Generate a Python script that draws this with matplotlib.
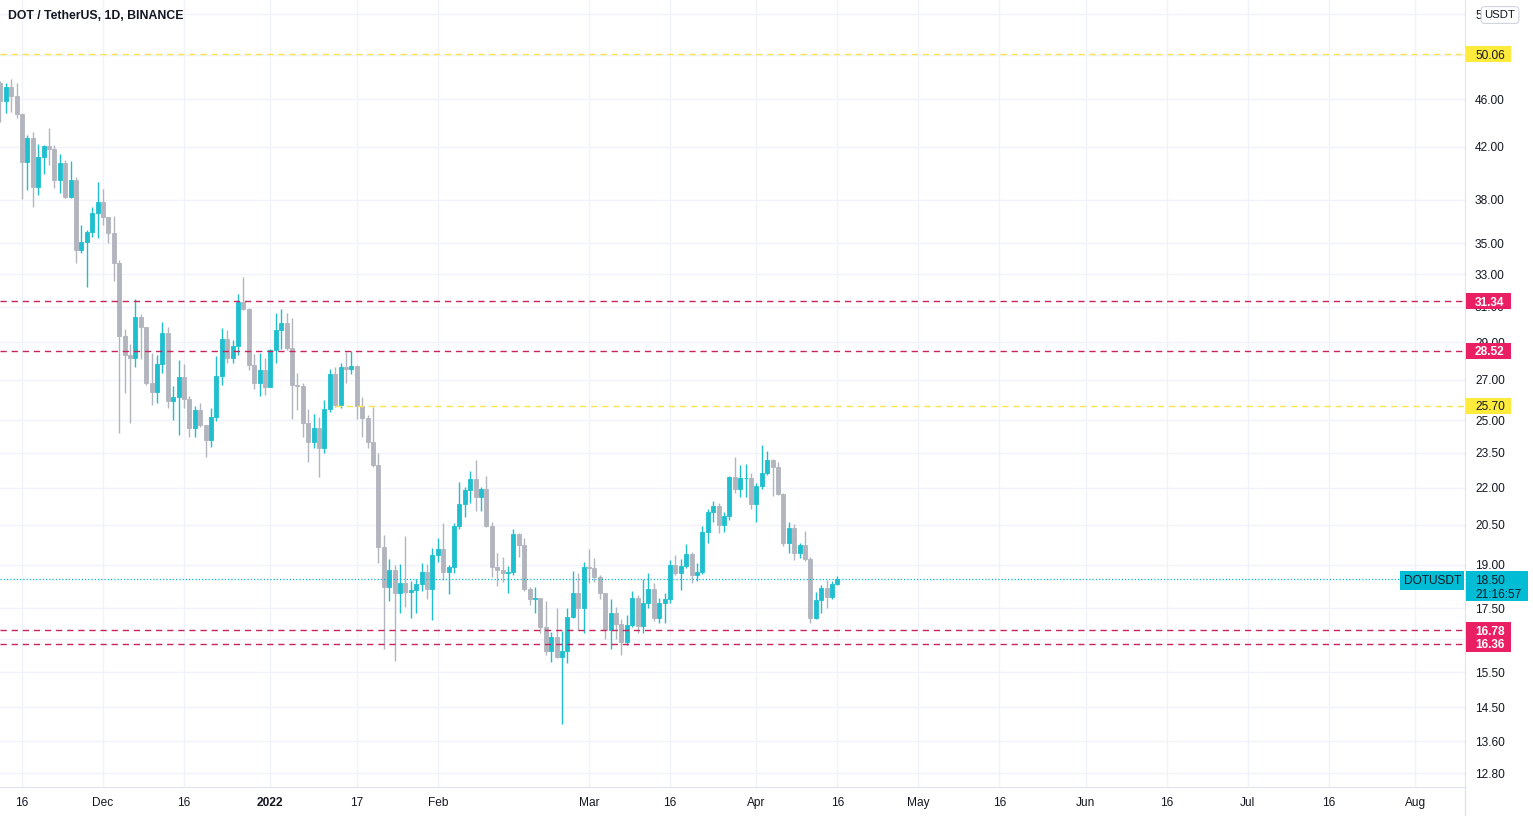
import numpy as np
import pandas as pd
import matplotlib
matplotlib.use("Agg")
import matplotlib.pyplot as plt
import matplotlib.dates as mdates
import matplotlib.transforms as mtransforms
from matplotlib.patches import Rectangle
from matplotlib.lines import Line2D
from matplotlib.ticker import NullLocator

plt.rcParams['font.family'] = ['Liberation Sans', 'DejaVu Sans']

# ==================== DATA (DOT/USDT 1D) ====================
dates = pd.date_range("2021-11-12", "2022-04-16", freq="D")
first_open = 47.42

closes = [
    # Nov 12 - Nov 30
    45.83, 47.09, 46.29, 44.69, 40.80, 42.70, 38.95, 41.19, 42.08, 41.86,
    39.45, 40.72, 38.22, 39.45, 34.54, 35.09, 35.72, 37.03, 37.86,
    # Dec
    36.80, 35.69, 33.68, 29.36, 28.30, 28.13, 30.44, 29.86, 26.82, 26.40,
    27.81, 29.49, 25.95, 26.12, 27.16, 26.02, 24.63, 25.50, 24.78, 24.09,
    25.18, 27.20, 29.17, 28.13, 28.79, 31.28, 30.88, 27.77, 26.82, 27.51, 26.62,
    # Jan
    28.57, 29.68, 30.06, 28.66, 26.74, 26.70, 24.86, 23.98, 24.63, 23.71,
    25.53, 27.30, 25.74, 27.68, 27.58, 27.72, 25.69, 25.13, 24.01, 22.97,
    19.65, 18.23, 18.82, 18.01, 18.35, 18.06, 18.12, 18.33, 18.74, 18.15, 19.36,
    # Feb
    19.57, 18.74, 18.94, 20.46, 21.33, 21.91, 22.36, 21.63, 21.93, 20.46,
    18.94, 18.82, 18.70, 18.76, 20.14, 19.74, 18.14, 17.80, 17.84, 16.90,
    16.15, 16.58, 15.95, 16.15, 17.22, 18.01, 17.50, 18.92,
    # Mar
    18.88, 18.58, 18.01, 16.80, 17.34, 16.99, 16.41, 16.96, 17.84, 16.92,
    17.67, 18.14, 17.17, 17.69, 17.80, 19.00, 18.72, 18.96, 19.40, 18.64,
    18.76, 20.24, 21.02, 21.25, 20.50, 20.85, 22.47, 21.93, 22.40, 22.42, 21.33,
    # Apr 1 - Apr 16
    22.07, 22.61, 23.19, 22.87, 21.74, 19.80, 20.37, 19.43, 19.74, 19.21,
    17.17, 17.78, 18.18, 17.87, 18.33, 18.50,
]

highs = [
    47.63, 47.45, 47.75, 47.39, 44.80, 42.93, 43.19, 42.24, 42.16, 43.51,
    42.16, 41.42, 40.97, 40.92, 39.65, 36.22, 35.88, 37.50, 39.32,
    38.76, 36.80, 36.84, 33.89, 29.72, 28.90, 31.46, 30.57, 29.86, 28.39,
    28.30, 30.11, 29.83, 26.69, 28.03, 27.82, 26.18, 25.69, 25.85, 24.78,
    25.58, 28.25, 29.77, 29.68, 29.12, 31.76, 32.80, 30.92, 28.36, 28.39, 28.13,
    28.63, 30.63, 30.87, 30.67, 30.34, 27.37, 26.85, 25.53, 25.29, 25.18,
    25.99, 27.56, 27.68, 27.89, 28.48, 28.52, 27.77, 26.15, 25.26, 25.65,
    23.49, 20.11, 19.21, 19.00, 19.03, 20.08, 18.43, 18.49, 19.08, 19.04, 19.61,
    19.99, 20.56, 19.00, 20.56, 22.25, 22.04, 22.72, 23.19, 22.04, 22.50,
    20.63, 19.45, 19.30, 18.96, 20.33, 20.18, 19.99, 18.23, 18.23, 17.84,
    17.76, 16.74, 17.50, 16.77, 17.50, 18.80, 18.70, 19.12,
    19.57, 19.24, 18.64, 18.03, 17.80, 17.55, 17.14, 17.28, 18.10, 17.95,
    18.50, 18.72, 18.37, 17.84, 18.03, 19.18, 19.36, 19.21, 19.77, 19.49,
    19.08, 20.46, 21.12, 21.47, 21.38, 21.02, 22.50, 23.34, 22.97, 23.01, 22.61,
    22.18, 23.86, 23.60, 23.23, 23.12, 21.79, 20.63, 20.54, 19.80, 20.28,
    19.28, 18.06, 18.29, 18.47, 18.44, 18.61,
]

lows = [
    44.06, 44.82, 44.91, 44.35, 38.03, 38.71, 37.50, 38.34, 39.90, 40.59,
    38.83, 38.51, 38.10, 38.10, 33.68, 34.37, 32.22, 35.42, 35.32,
    36.22, 34.98, 32.59, 24.40, 26.35, 24.86, 27.68, 28.07, 26.74, 25.74,
    25.82, 27.34, 25.58, 25.02, 24.32, 25.58, 24.24, 24.24, 24.70, 23.34,
    23.78, 24.98, 26.74, 27.86, 27.89, 28.30, 30.80, 27.51, 26.52, 26.18, 26.23,
    26.62, 27.86, 28.63, 28.57, 25.05, 25.50, 24.24, 23.12, 23.71, 22.44,
    23.49, 25.41, 25.65, 25.58, 26.82, 27.30, 25.05, 24.24, 23.71, 22.87,
    19.06, 16.19, 17.74, 15.84, 17.36, 17.55, 17.17, 17.36, 18.10, 17.81, 17.12,
    19.12, 18.47, 17.98, 18.72, 20.33, 20.80, 21.38, 21.06, 21.06, 20.43,
    18.58, 18.26, 18.41, 18.03, 18.64, 19.30, 18.10, 17.61, 17.36, 16.69,
    16.02, 15.81, 15.92, 14.05, 15.78, 17.17, 16.80, 16.69,
    18.35, 18.41, 17.80, 16.50, 16.19, 16.50, 16.02, 16.32, 16.88, 16.69,
    16.71, 17.50, 17.09, 17.01, 17.03, 17.69, 18.64, 18.12, 18.88, 18.35,
    18.43, 18.68, 19.82, 20.63, 20.18, 20.24, 20.69, 21.77, 21.63, 21.63, 21.12,
    20.63, 21.93, 22.54, 21.66, 21.70, 19.70, 19.43, 19.18, 19.24, 19.16,
    17.01, 17.14, 17.36, 17.50, 17.80, 18.29,
]

# levels drawn on the chart
red_levels = [31.34, 28.52, 16.78, 16.36]
yellow_levels = [50.06]
yellow_partial = (25.70, "2022-01-13")
last_price = 18.50
countdown = "21:16:57"

price_ticks = [12.8, 13.6, 14.5, 15.5, 16.5, 17.5, 19.0, 20.5, 22.0, 23.5,
               25.0, 27.0, 29.0, 31.0, 33.0, 35.0, 38.0, 42.0, 46.0, 50.0, 54.0]
date_ticks = ["2021-11-16", "2021-12-01", "2021-12-16", "2022-01-01", "2022-01-17",
              "2022-02-01", "2022-03-01", "2022-03-16", "2022-04-01", "2022-04-16",
              "2022-05-01", "2022-05-16", "2022-06-01", "2022-06-16", "2022-07-01",
              "2022-07-16", "2022-08-01"]
date_labels = ["16", "Dec", "16", "2022", "17", "Feb", "Mar", "16", "Apr", "16",
               "May", "16", "Jun", "16", "Jul", "16", "Aug"]

# ==================== STYLE ====================
UP = "#1fbfd0"
DOWN = "#b2b5be"
RED_LINE = "#c8235a"
RED_BADGE = "#e91e63"
YELLOW_LINE = "#fbe54a"
YELLOW_BADGE = "#ffeb3b"
TEAL_BADGE = "#00bcd4"
GRID = "#f0f3fa"
SEP = "#e0e3eb"
TXT = "#131722"

W, H = 1533, 816
AX_W, AX_H = 1465, 787
PX_PER_DAY = 5.4
PX_PER_LN = 527.0

fig = plt.figure(figsize=(W / 100, H / 100), dpi=100)
fig.patch.set_facecolor("white")
b = (H - AX_H) / H
ax = fig.add_axes([0, b, AX_W / W, AX_H / H])

x = mdates.date2num(dates)
o = np.array([first_open] + closes[:-1])
c = np.array(closes)
h = np.maximum(np.array(highs), np.maximum(o, c))
l = np.minimum(np.array(lows), np.minimum(o, c))
up = c >= o
cols = np.where(up, UP, DOWN)

ax.vlines(x, l, h, colors=cols, linewidth=1.0, zorder=3)
lo = np.minimum(o, c)
hi = np.maximum(o, c)
ax.bar(x, hi - lo, bottom=lo, width=0.72, color=cols, edgecolor=cols,
       linewidth=0.6, zorder=4)

# axes ranges
x0 = x[0] - 0.07
x1 = x0 + AX_W / PX_PER_DAY
ax.set_xlim(x0, x1)
ax.set_yscale("log")
y_top = 46.0 * np.exp(99 / PX_PER_LN)
y_bot = 46.0 * np.exp(-(AX_H - 99) / PX_PER_LN)
ax.set_ylim(y_bot, y_top)

# grid + ticks
ax.yaxis.set_minor_locator(NullLocator())
ax.xaxis.set_minor_locator(NullLocator())
ax.set_yticks(price_ticks)
ax.tick_params(axis="y", left=False, right=False, labelleft=False, labelright=False)
xt = mdates.date2num(pd.to_datetime(date_ticks))
ax.set_xticks(xt)
ax.set_xticklabels(date_labels)
ax.tick_params(axis="x", length=0, pad=7, labelsize=8.6, labelcolor=TXT)
for lab in ax.get_xticklabels():
    if lab.get_text() == "2022":
        lab.set_fontweight("bold")
ax.grid(True, color=GRID, linewidth=1, zorder=0)
ax.set_axisbelow(True)
for s in ["top", "left"]:
    ax.spines[s].set_visible(False)
ax.spines["bottom"].set_color(SEP)
ax.spines["right"].set_color(SEP)
fig.add_artist(Line2D([AX_W / W, AX_W / W], [0, b], color=SEP, linewidth=1))

# level lines
for p in red_levels:
    ax.axhline(p, color=RED_LINE, linewidth=1, dashes=(4.5, 3.5), zorder=5)
for p in yellow_levels:
    ax.axhline(p, color=YELLOW_LINE, linewidth=1, dashes=(4.5, 3.5), zorder=5)
ax.hlines(yellow_partial[0], mdates.date2num(pd.Timestamp(yellow_partial[1])), x1,
          color=YELLOW_LINE, linewidth=1, linestyles=(0, (4.5, 3.5)), zorder=5)
ax.axhline(last_price, color=TEAL_BADGE, linewidth=0.9, dashes=(1, 1.6), zorder=5)

trans = mtransforms.blended_transform_factory(ax.transAxes, ax.transData)
ax.text(1 - 4 / AX_W, last_price, "DOTUSDT", transform=trans, ha="right",
        va="center_baseline", fontsize=8.6, color=TXT, zorder=7,
        bbox=dict(boxstyle="square,pad=0.28", fc=TEAL_BADGE, ec="none"))

# title
fig.text(8 / W, 1 - 16 / H, "DOT / TetherUS, 1D, BINANCE", fontsize=8.8,
         fontweight="bold", color=TXT, va="center", ha="left")

# price scale on the right
ax2 = fig.add_axes([AX_W / W, b, (W - AX_W) / W, AX_H / H])
ax2.set_xlim(0, W - AX_W)
ax2.set_yscale("log")
ax2.set_ylim(y_bot, y_top)
ax2.set_axis_off()

for t in price_ticks:
    ax2.text(10, t, f"{t:.2f}", fontsize=8.6, color=TXT, ha="left", va="center_baseline")

def badge(p, fc, tc, bold, width=45, up_px=8, down_px=8):
    bot = p * np.exp(-down_px / PX_PER_LN)
    top = p * np.exp(up_px / PX_PER_LN)
    ax2.add_patch(Rectangle((1, bot), width, top - bot, facecolor=fc, edgecolor="none", zorder=5))
    ax2.text(10, p, f"{p:.2f}", fontsize=8.6, color=tc, ha="left", va="center_baseline",
             fontweight="bold" if bold else "normal", zorder=6)

for p in yellow_levels + [yellow_partial[0]]:
    badge(p, YELLOW_BADGE, TXT, False)
for p in red_levels:
    badge(p, RED_BADGE, "white", True)
badge(last_price, TEAL_BADGE, TXT, False, width=62, up_px=8, down_px=22)
ax2.text(10, last_price * np.exp(-14 / PX_PER_LN), countdown, fontsize=8.6, color=TXT,
         ha="left", va="center_baseline", zorder=6)

# currency box
fig.text(1500 / W, 1 - 15 / H, "USDT", fontsize=8.2, color=TXT, ha="center", va="center",
         bbox=dict(boxstyle="round,pad=0.3,rounding_size=0.3", fc="white", ec="#d1d4dc", lw=0.8))

fig.savefig("out.png", dpi=100)
